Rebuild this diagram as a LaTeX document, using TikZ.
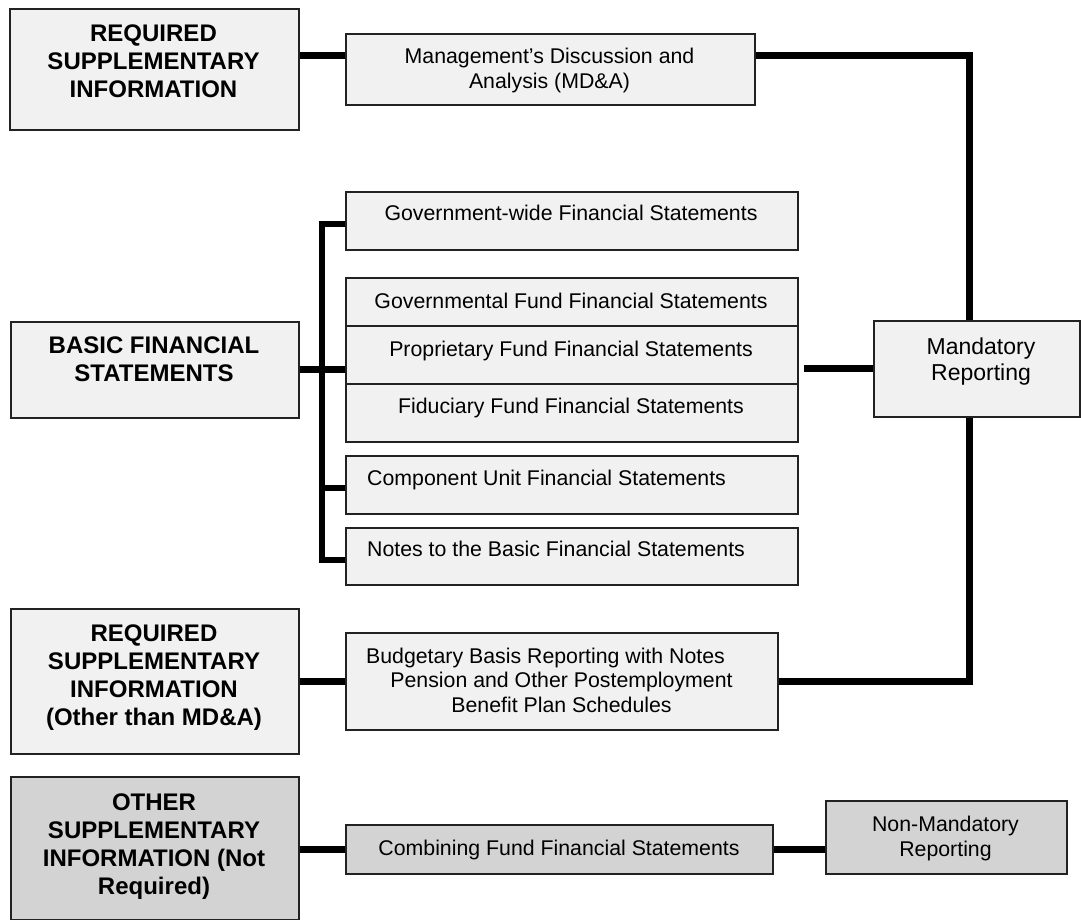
\documentclass[tikz,border=0pt]{standalone}
\usepackage{fontspec}
\setmainfont{Liberation Sans}
\newcommand{\boxlines}[1]{\begin{tabular}[t]{@{}c@{}}#1\end{tabular}}
\definecolor{lightfill}{HTML}{F1F1F1}
\definecolor{grayfill}{HTML}{D3D3D3}
\definecolor{edge}{HTML}{222222}
\tikzset{
  box/.style={draw=edge, line width=1.6pt, fill=lightfill, inner sep=0pt, anchor=north west},
  graybox/.style={box, fill=grayfill},
  conn/.style={line width=7pt, black, line join=miter, line cap=butt},
  branch/.style={line width=6pt, black, line join=miter, line cap=butt},
  head/.style={inner sep=0pt, anchor=base, font=\fontsize{24}{28}\selectfont\bfseries},
  body/.style={inner sep=0pt, anchor=base, font=\fontsize{21.3}{25}\selectfont},
}
\begin{document}
\begin{tikzpicture}[x=1pt,y=-1pt]
\useasboundingbox (0,0) rectangle (1081,920);
% boxes
\node[box, minimum width=289pt, minimum height=121pt] (rsi1) at (9,8) {};
\node[box, minimum width=409pt, minimum height=71pt] (mdna) at (345,33) {};
\node[box, minimum width=452pt, minimum height=58pt] (gov) at (345,191) {};
\node[box, minimum width=452pt, minimum height=48pt] (govfund) at (345,277) {};
\node[box, minimum width=452pt, minimum height=58pt] (prop) at (345,325) {};
\node[box, minimum width=452pt, minimum height=58pt] (fid) at (345,383) {};
\node[box, minimum width=452pt, minimum height=58pt] (comp) at (345,455) {};
\node[box, minimum width=452pt, minimum height=57pt] (notes) at (345,527) {};
\node[box, minimum width=288pt, minimum height=96pt] (bfs) at (10,321) {};
\node[box, minimum width=206pt, minimum height=96pt] (mand) at (873,320) {};
\node[box, minimum width=288pt, minimum height=145pt] (rsi2) at (10,608) {};
\node[box, minimum width=432pt, minimum height=97pt] (budg) at (345,632) {};
\node[graybox, minimum width=288pt, minimum height=143pt] (osi) at (10,776) {};
\node[graybox, minimum width=427pt, minimum height=49pt] (comb) at (345,824) {};
\node[graybox, minimum width=241pt, minimum height=73pt] (nonm) at (825,800) {};
% helper coordinates
\coordinate (ytop) at (0,56);
\coordinate (xr) at (969,0);
\coordinate (xb) at (322,0);
\coordinate (ygov) at (0,224);
\coordinate (ycomp) at (0,488);
\coordinate (ynotes) at (0,560);
% connectors
\draw[conn] (rsi1.east |- ytop) -- (mdna.west |- ytop);
\draw[conn] (mdna.east |- ytop) -| (xr |- mand.north);
\draw[conn] (budg.east) -| (xr |- mand.south);
\draw[conn] (rsi2.east) -- (budg.west);
\draw[conn] (bfs.east) -- (bfs.east -| prop.west);
\draw[conn, shorten >=5pt] (mand.west) -- (mand.west -| prop.east);
\draw[branch] (gov.west |- ygov) -| (xb |- ynotes) -- (notes.west |- ynotes);
\draw[branch] (xb |- ycomp) -- (comp.west |- ycomp);
\draw[conn] (osi.east |- comb.west) -- (comb.west);
\draw[conn] (comb.east) -- (comb.east -| nonm.west);
% texts
\node[head] (rsi1t) at (153.5,41.7) {\boxlines{REQUIRED\\SUPPLEMENTARY\\INFORMATION}};
\node[head] (bfst) at (154,353) {\boxlines{BASIC FINANCIAL\\STATEMENTS}};
\node[head] (rsi2t) at (154,641) {\boxlines{REQUIRED\\SUPPLEMENTARY\\INFORMATION\\(Other than MD\&A)}};
\node[head] (osit) at (154,810) {\boxlines{OTHER\\SUPPLEMENTARY\\INFORMATION (Not\\Required)}};
\node[body] (mdnat) at (549.5,64) {\boxlines{Management’s Discussion and\\Analysis (MD\&A)}};
\node[body] (govt) at (571,221) {Government-wide Financial Statements};
\node[body] (govfundt) at (571,308.3) {Governmental Fund Financial Statements};
\node[body] (propt) at (571,356) {Proprietary Fund Financial Statements};
\node[body] (fidt) at (571,413.3) {Fiduciary Fund Financial Statements};
\node[body, anchor=base west] (compt) at (367,485.3) {Component Unit Financial Statements};
\node[body, anchor=base west] (notest) at (367,556.7) {Notes to the Basic Financial Statements};
\node[body, font=\fontsize{21.3}{24.5}\selectfont] (budgt) at (561.5,663.3) {\boxlines{Budgetary Basis Reporting with Notes\hspace*{32pt}\\Pension and Other Postemployment\\Benefit Plan Schedules}};
\node[body] (combt) at (559,855.7) {Combining Fund Financial Statements};
\node[body] (nonmt) at (945.5,831.7) {\boxlines{Non-Mandatory\\Reporting}};
\node[body, font=\fontsize{23}{26.7}\selectfont] (mandt) at (981,354) {\boxlines{Mandatory\\Reporting}};
\end{tikzpicture}
\end{document}
